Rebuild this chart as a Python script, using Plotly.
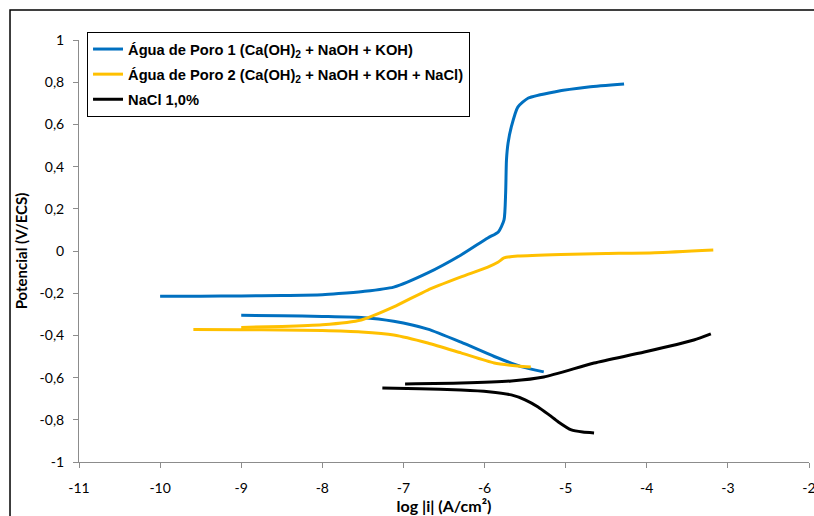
import plotly.graph_objects as go

# ---------------- data ----------------
series_names = [
    "Água de Poro 1 (Ca(OH)<sub>2</sub> + NaOH + KOH)",
    "Água de Poro 2 (Ca(OH)<sub>2</sub> + NaOH + KOH + NaCl)",
    "NaCl 1,0%",
]
series_colors = ["#0070C0", "#FFC000", "#000000"]

# Água de Poro 1 - anodic branch
p1_anod_logi = [-10.0, -9.5, -9.0, -8.5, -8.0, -7.8, -7.5, -7.12, -6.70, -6.29, -5.96,
                -5.83, -5.76, -5.74, -5.73, -5.71, -5.67, -5.59, -5.46, -5.14, -4.72, -4.28]
p1_anod_e = [-0.215, -0.214, -0.213, -0.211, -0.207, -0.202, -0.192, -0.171, -0.104, -0.019, 0.062,
             0.090, 0.147, 0.275, 0.431, 0.512, 0.588, 0.682, 0.725, 0.754, 0.777, 0.791]
# Água de Poro 1 - cathodic branch
p1_cat_logi = [-9.0, -8.5, -8.0, -7.52, -7.12, -6.70, -6.29, -5.88, -5.55, -5.27]
p1_cat_e = [-0.305, -0.307, -0.310, -0.315, -0.333, -0.370, -0.432, -0.500, -0.548, -0.573]

# Água de Poro 2 - anodic branch
p2_anod_logi = [-9.0, -8.5, -8.0, -7.52, -7.12, -6.70, -6.29, -5.96, -5.83, -5.76,
                -5.59, -5.06, -4.50, -3.90, -3.18]
p2_anod_e = [-0.362, -0.358, -0.350, -0.327, -0.265, -0.185, -0.123, -0.076, -0.052, -0.033,
             -0.024, -0.016, -0.012, -0.008, 0.005]
# Água de Poro 2 - cathodic branch
p2_cat_logi = [-9.59, -9.0, -8.5, -8.0, -7.52, -7.12, -6.70, -6.29, -5.88, -5.59, -5.43]
p2_cat_e = [-0.372, -0.373, -0.374, -0.377, -0.384, -0.398, -0.436, -0.483, -0.531, -0.545, -0.550]

# NaCl 1,0% - anodic branch
n_anod_logi = [-6.98, -6.29, -5.67, -5.27, -4.65, -4.03, -3.42, -3.21]
n_anod_e = [-0.630, -0.626, -0.616, -0.597, -0.531, -0.479, -0.422, -0.393]
# NaCl 1,0% - cathodic branch
n_cat_logi = [-7.26, -6.80, -6.29, -5.95, -5.67, -5.50, -5.34, -5.20, -5.09, -4.93, -4.79, -4.65]
n_cat_e = [-0.649, -0.653, -0.659, -0.667, -0.682, -0.705, -0.739, -0.778, -0.810, -0.848, -0.858, -0.862]

y_tick_vals = [-1, -0.8, -0.6, -0.4, -0.2, 0, 0.2, 0.4, 0.6, 0.8, 1]
y_tick_text = ["-1", "-0,8", "-0,6", "-0,4", "-0,2", "0", "0,2", "0,4", "0,6", "0,8", "1"]
x_tick_vals = [-11, -10, -9, -8, -7, -6, -5, -4, -3, -2]
x_tick_text = ["-11", "-10", "-9", "-8", "-7", "-6", "-5", "-4", "-3", "-2"]

x_title = "log |i| (A/cm²)"
y_title = "Potencial (V/ECS)"

# ---------------- figure ----------------
branches = [
    (p1_anod_logi, p1_anod_e, p1_cat_logi, p1_cat_e),
    (p2_anod_logi, p2_anod_e, p2_cat_logi, p2_cat_e),
    (n_anod_logi, n_anod_e, n_cat_logi, n_cat_e),
]

fig = go.Figure()
for i, (name, color, (ax, ay, cx, cy)) in enumerate(zip(series_names, series_colors, branches)):
    fig.add_trace(go.Scatter(
        x=list(ax) + [None] + list(cx),
        y=list(ay) + [None] + list(cy),
        mode="lines",
        name="<b>" + name + "</b>",
        legendgroup="g%d" % i,
        line=dict(color=color, width=3, shape="spline", smoothing=0.6),
        connectgaps=False,
    ))

axis_gray = "#8C8C8C"
tick_font = dict(family="Lato, Calibri, sans-serif", size=14, color="#000000")

fig.update_layout(
    width=814, height=516,
    margin=dict(l=79, r=5, t=40, b=54, autoexpand=False),
    paper_bgcolor="white",
    plot_bgcolor="white",
    showlegend=True,
    legend=dict(
        x=0.011, y=1.019, xanchor="left", yanchor="top",
        bordercolor="#000000", borderwidth=1, bgcolor="white",
        font=dict(family="Liberation Sans, Arial, sans-serif", size=14.7, color="#000000"),
        tracegroupgap=3, itemwidth=30,
    ),
    xaxis=dict(
        range=[-11, -2], tickvals=x_tick_vals, ticktext=x_tick_text, automargin=False,
        showgrid=False, zeroline=False, showline=True, linecolor=axis_gray, linewidth=1,
        ticks="outside", ticklen=5, tickcolor=axis_gray, tickfont=tick_font,
        ticklabelstandoff=8, ticklabeloverflow="allow",
        title=dict(text="<b>" + x_title + "</b>", standoff=6,
                   font=dict(family="Lato, Calibri, sans-serif", size=16, color="#000000")),
    ),
    yaxis=dict(
        range=[-1, 1], tickvals=y_tick_vals, ticktext=y_tick_text, automargin=False,
        showgrid=False, zeroline=False, showline=True, linecolor=axis_gray, linewidth=1,
        ticks="outside", ticklen=5, tickcolor=axis_gray, tickfont=tick_font,
        ticklabelstandoff=6,
        title=dict(text="<b>" + y_title + "</b>", standoff=8,
                   font=dict(family="Lato, Calibri, sans-serif", size=15, color="#000000")),
    ),
    shapes=[dict(
        type="path", xref="paper", yref="paper",
        path="M -0.0945,-0.2 L -0.0945,1.0711 L 1.1,1.0711",
        line=dict(color="#000000", width=1.5), layer="below",
    )],
)

fig.write_html(
    "out.html", config={"displayModeBar": False},
    post_script=("document.body.style.margin='0';"
                 "document.body.style.overflow='hidden';"
                 "document.documentElement.style.overflow='hidden';"),
)
